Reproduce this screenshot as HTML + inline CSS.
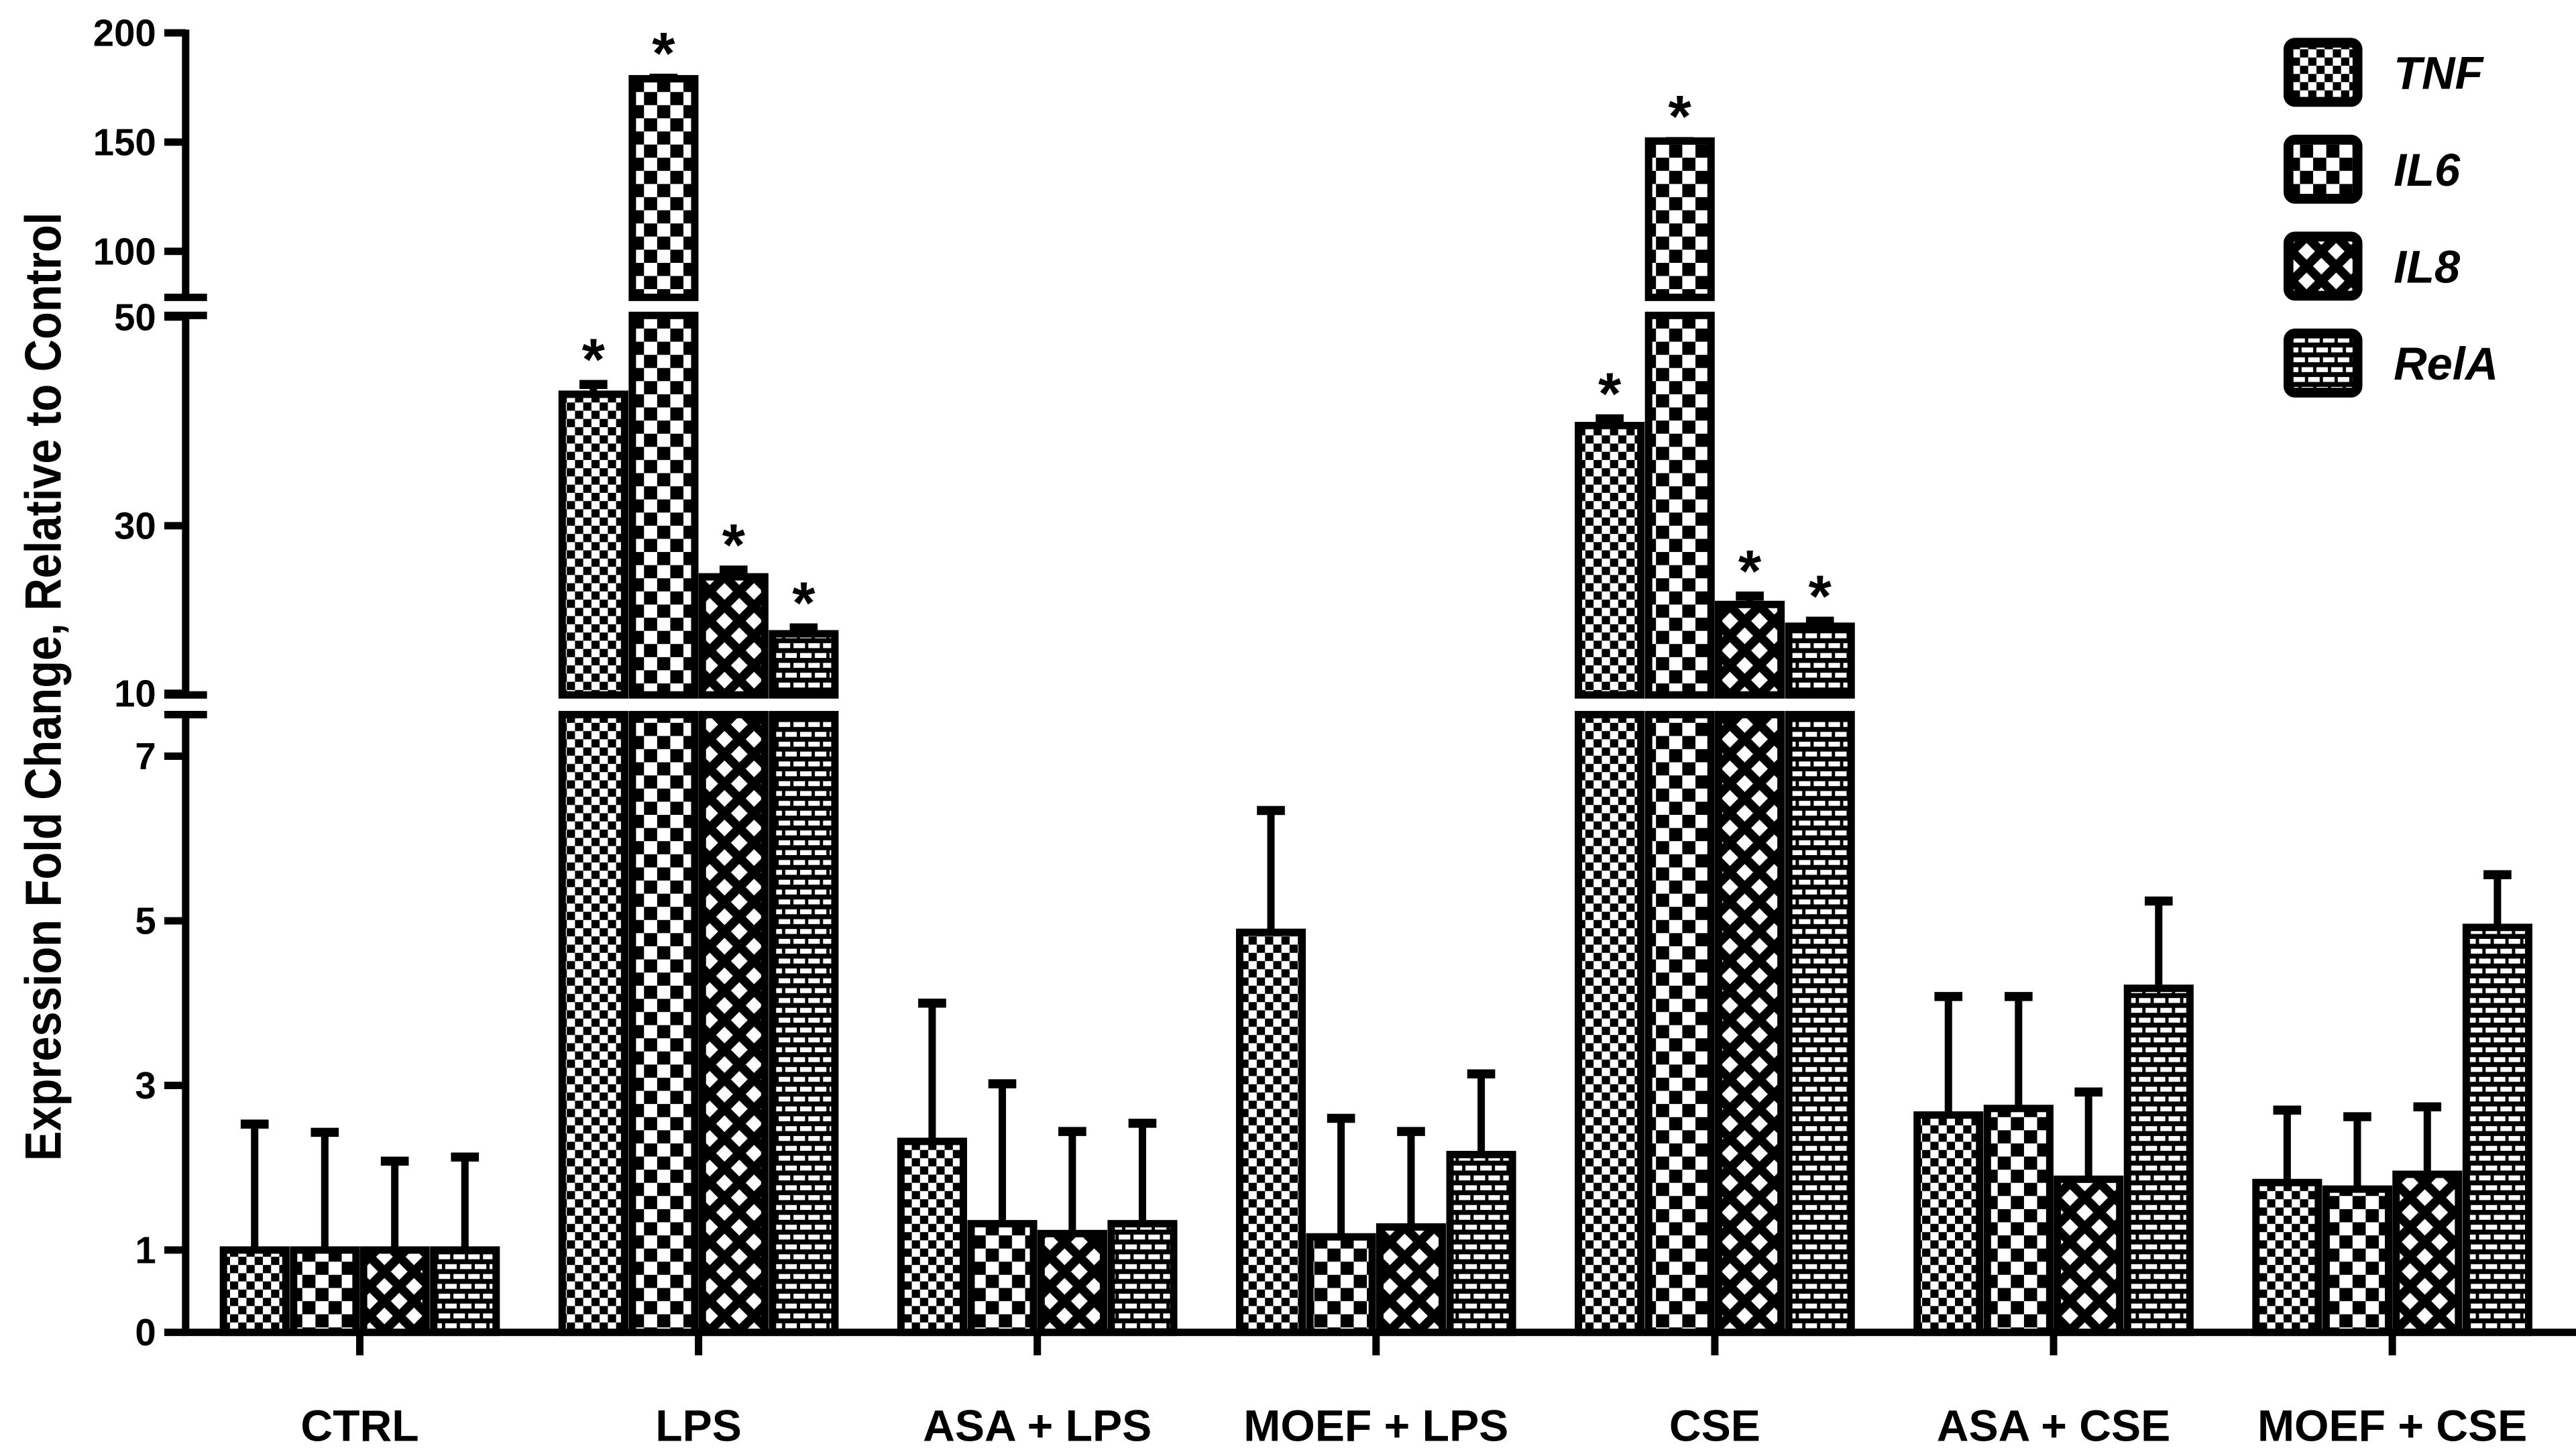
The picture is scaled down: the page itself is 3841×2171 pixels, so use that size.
<!DOCTYPE html>
<html><head><meta charset="utf-8"><style>
html,body{margin:0;padding:0;background:#fff;}
svg{display:block;}
text{font-family:"Liberation Sans",sans-serif;font-weight:bold;fill:#000;}
</style></head><body>
<svg id="chart" width="3841" height="2171" viewBox="0 0 1568 886.27" xmlns="http://www.w3.org/2000/svg">
<defs>
<pattern id="p0" patternUnits="userSpaceOnUse" width="10" height="10"><rect width="10" height="10" fill="#fff"/><rect width="5" height="5" fill="#000"/><rect x="5" y="5" width="5" height="5" fill="#000"/></pattern>
<pattern id="p1" patternUnits="userSpaceOnUse" width="16" height="16"><rect width="16" height="16" fill="#fff"/><rect width="8" height="8" fill="#000"/><rect x="8" y="8" width="8" height="8" fill="#000"/></pattern>
<pattern id="p2" patternUnits="userSpaceOnUse" width="18" height="18"><rect width="18" height="18" fill="#fff"/><path d="M0 0L18 18M18 0L0 18" stroke="#000" stroke-width="5.5"/></pattern>
<pattern id="p3" patternUnits="userSpaceOnUse" width="18" height="12"><rect width="18" height="12" fill="#000"/><rect x="1" y="1.5" width="7" height="3" fill="#fff"/><rect x="10" y="1.5" width="7" height="3" fill="#fff"/><rect x="-3" y="7.5" width="7" height="3" fill="#fff"/><rect x="6" y="7.5" width="7" height="3" fill="#fff"/><rect x="15" y="7.5" width="7" height="3" fill="#fff"/></pattern>
</defs>
<g id="axes"></g>
<g id="bars"></g>
<g id="legend"></g>
</svg>
<script>
const categories = ["CTRL","LPS","ASA + LPS","MOEF + LPS","CSE","ASA + CSE","MOEF + CSE"];
const seriesNames = ["TNF","IL6","IL8","RelA"];
const tnf = [1, 42.6, 2.32, 4.86, 39.6, 2.64, 1.82];
const il6 = [1, 179, 1.32, 1.16, 150.5, 2.72, 1.74];
const il8 = [1, 23.9, 1.2, 1.28, 20.6, 1.86, 1.92];
const rela = [1, 17.1, 1.32, 2.16, 18.0, 4.18, 4.92];
const tnfErr = [1.55, 1.1, 1.7, 1.5, 0.8, 1.46, 0.9];
const il6Err = [1.45, 1.0, 1.72, 1.46, 0.5, 1.38, 0.9];
const il8Err = [1.1, 1.0, 1.26, 1.18, 1.2, 1.08, 0.84];
const relaErr = [1.15, 0.9, 1.24, 1.0, 0.8, 1.08, 0.66];
const starFlags = [false, true, false, false, true, false, false];
const tickValues = [0,1,3,5,7,10,30,50,100,150,200];

const NS="http://www.w3.org/2000/svg";
function mk(tag, attrs, parent){const e=document.createElementNS(NS,tag);for(const k in attrs)e.setAttribute(k,attrs[k]);parent.appendChild(e);return e;}
function y(v){
  if(v<=7.5) return 811 - v*50.1;
  if(v<=30) return 422 - (v-10)/20*102;
  if(v<=60) return 320 - (v-30)/20*127;
  return 153 - (v-100)*1.33;
}
const brk = [[181,192],[423,435]];
const x0=113, x1=1568;
function xc(i){return 219 + i*206.2;}
const axes=document.getElementById('axes'), bars=document.getElementById('bars'), legend=document.getElementById('legend');

[[18,181],[192,423],[435,811]].forEach(s=>{
  const l=mk('line',{x1:x0,y1:s[0],x2:x0,y2:s[1],stroke:'#000','stroke-width':4.5},axes);
  
  
});
brk.forEach(b=>{b.forEach(yy=>{
  const l=mk('line',{x1:x0-13,y1:yy,x2:x0+13,y2:yy,stroke:'#000','stroke-width':4.5},axes);
  
  
});});
tickValues.forEach(v=>{
  const yy=y(v);
  const t=mk('line',{x1:x0-13,y1:yy,x2:x0,y2:yy,stroke:'#000','stroke-width':4.5},axes);
  
  
  const tx=mk('text',{x:x0-18,y:yy+8,'text-anchor':'end','font-size':23},axes);
  tx.textContent=v;
  
  
});
const xa=mk('line',{x1:x0-2,y1:811,x2:x1,y2:811,stroke:'#000','stroke-width':4.5},axes);


categories.forEach((c,i)=>{
  const t=mk('line',{x1:xc(i),y1:811,x2:xc(i),y2:825,stroke:'#000','stroke-width':4.5},axes);
  
  
  const tx=mk('text',{x:xc(i),y:877,'text-anchor':'middle','font-size':27},axes);
  tx.textContent=c;
  
  
});
const yt=mk('text',{transform:'translate(37,418) rotate(-90) scale(0.88,1)','text-anchor':'middle','font-size':31},axes);
yt.textContent='Expression Fold Change, Relative to Control';



const vals=[tnf,il6,il8,rela], errs=[tnfErr,il6Err,il8Err,relaErr];
const offs=[-64,-21.3,21.3,64], bw=38;
categories.forEach((c,i)=>{
  vals.forEach((arr,s)=>{
    const v=arr[i], top=y(v), e=v+errs[s][i], ey=y(e);
    const cx=xc(i)+offs[s], lx=cx-bw/2;
    const el=mk('line',{x1:cx,y1:ey,x2:cx,y2:top,stroke:'#000','stroke-width':4.5},bars);
    
    
    const ec=mk('line',{x1:cx-8.5,y1:ey+1,x2:cx+8.5,y2:ey+1,stroke:'#000','stroke-width':5.5},bars);
    
    
    let segs=[[top,811]];
    brk.forEach(b=>{
      const ns=[];
      segs.forEach(sg=>{
        if(sg[0]<b[0]&&sg[1]>b[1]){ns.push([sg[0],b[0]]);ns.push([b[1],sg[1]]);}
        else ns.push(sg);
      });
      segs=ns;
    });
    segs.forEach(sg=>{
      const r=mk('rect',{x:lx,y:sg[0],width:bw,height:sg[1]-sg[0],fill:'url(#p'+s+')',stroke:'#000','stroke-width':4.5},bars);
      
      
    });
    if(starFlags[i]){
      const st=mk('text',{x:cx,y:ey-2,'text-anchor':'middle','font-size':36},bars);
      st.textContent='*';
      
      
    }
  });
});

seriesNames.forEach((n,s)=>{
  const ly=26+s*59;
  const r=mk('rect',{x:1393,y:ly,width:42,height:36,rx:4,fill:'url(#p'+s+')',stroke:'#000','stroke-width':6},legend);
  
  
  const t=mk('text',{x:1457,y:ly+28,'font-size':28,'font-style':'italic'},legend);
  t.textContent=n;
  
  
});
</script>
</body></html>
